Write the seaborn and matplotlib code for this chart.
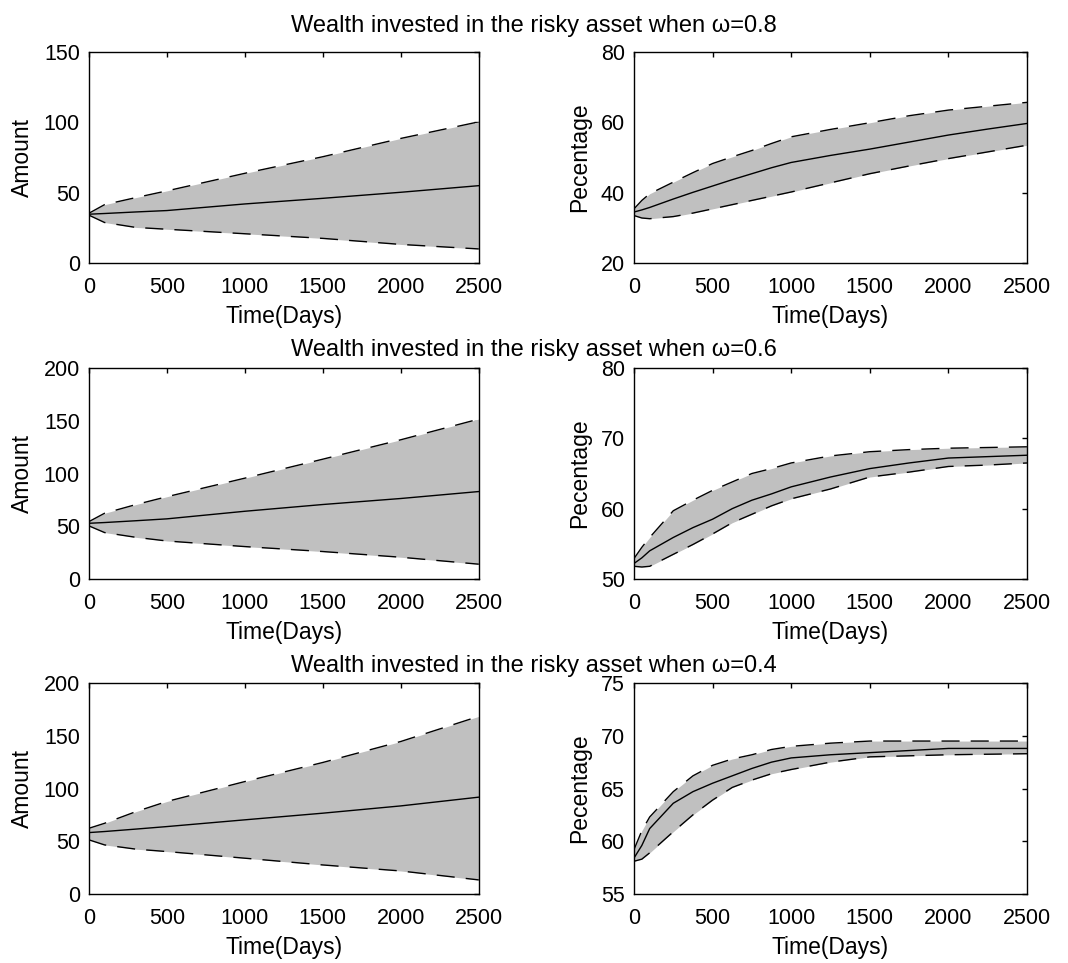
import numpy as np
import pandas as pd
import matplotlib
matplotlib.use("Agg")
import matplotlib.pyplot as plt
import seaborn as sns

# omega values, one row of panels each
omegas = ["0.8", "0.6", "0.4"]

# left panels: amount invested (x in days)
amt_days = [0, 100, 300, 500, 1000, 1500, 2000, 2500]
amt_mean = [
    [34.7, 35.2, 36.3, 37.3, 42.0, 46.0, 50.3, 55.0],
    [52.8, 53.5, 55.2, 57.0, 64.2, 70.6, 76.3, 82.9],
    [58.2, 59.2, 61.5, 63.9, 70.3, 76.6, 83.5, 91.8],
]
amt_upper = [
    [35.4, 41.5, 46.5, 51.3, 63.8, 75.6, 88.6, 100.4],
    [54.4, 62.3, 70.5, 78.0, 95.6, 113.6, 132.0, 151.6],
    [62.3, 67.0, 78.0, 87.7, 106.6, 124.7, 144.6, 168.4],
]
amt_lower = [
    [34.0, 28.8, 25.3, 24.0, 20.8, 17.5, 13.2, 10.0],
    [50.3, 44.0, 39.5, 36.0, 30.7, 26.0, 20.6, 14.0],
    [51.3, 46.5, 42.5, 40.2, 33.9, 27.5, 21.8, 13.3],
]
amt_ylim = [(0, 150), (0, 200), (0, 200)]
amt_yticks = [[0, 50, 100, 150], [0, 50, 100, 150, 200], [0, 50, 100, 150, 200]]

# right panels: percentage of wealth in the risky asset
pct_days = [0, 50, 100, 250, 375, 500, 625, 750, 875, 1000, 1250, 1500, 1750, 2000, 2250, 2500]
pct_mean = [
    [34.5, 35.1, 35.8, 38.2, 40.1, 41.9, 43.7, 45.4, 47.1, 48.6, 50.6, 52.4, 54.4, 56.4, 58.1, 59.7],
    [52.2, 53.0, 54.0, 55.9, 57.3, 58.5, 60.0, 61.2, 62.1, 63.1, 64.5, 65.7, 66.5, 67.2, 67.4, 67.6],
    [58.4, 59.6, 61.2, 63.6, 64.7, 65.5, 66.2, 66.9, 67.5, 67.9, 68.2, 68.4, 68.6, 68.8, 68.8, 68.8],
]
pct_upper = [
    [35.4, 37.8, 39.7, 43.0, 45.7, 48.3, 50.2, 52.0, 54.0, 55.9, 58.0, 59.9, 61.9, 63.5, 64.6, 65.7],
    [52.9, 54.5, 55.9, 59.7, 61.2, 62.6, 63.8, 65.0, 65.7, 66.5, 67.5, 68.1, 68.4, 68.6, 68.7, 68.8],
    [59.2, 61.0, 62.3, 64.7, 66.2, 67.2, 67.8, 68.2, 68.7, 69.0, 69.3, 69.5, 69.5, 69.5, 69.5, 69.5],
]
pct_lower = [
    [33.5, 32.8, 32.6, 33.2, 34.2, 35.4, 36.6, 37.8, 39.0, 40.2, 42.8, 45.4, 47.6, 49.7, 51.6, 53.5],
    [51.8, 51.7, 51.8, 53.5, 54.9, 56.4, 58.0, 59.2, 60.4, 61.4, 62.8, 64.5, 65.2, 66.0, 66.2, 66.5],
    [58.1, 58.3, 58.9, 60.9, 62.5, 63.9, 65.1, 65.8, 66.4, 66.8, 67.5, 68.0, 68.1, 68.2, 68.25, 68.3],
]
pct_ylim = [(20, 80), (50, 80), (55, 75)]
pct_yticks = [[20, 40, 60, 80], [50, 60, 70, 80], [55, 60, 65, 70, 75]]

sns.set_style("white")
plt.rcParams['font.family'] = ['Liberation Sans', 'DejaVu Sans']
plt.rcParams['text.color'] = 'black'
plt.rcParams['axes.labelcolor'] = 'black'

fig = plt.figure(figsize=(10.68, 9.63), dpi=100)

row_bottoms = [0.7269, 0.3988, 0.0717]
row_height = 0.219
title_y = [0.9668, 0.6303, 0.3022]
left_x, left_w = 0.0833, 0.365
right_x, right_w = 0.5936, 0.368


def draw_band(ax, days, mean, upper, lower, ylim, yticks, ylabel):
    df = pd.DataFrame({'day': days, 'mean': mean, 'upper': upper, 'lower': lower})
    ax.fill_between(df['day'], df['lower'], df['upper'], color='#c0c0c0', lw=0)
    sns.lineplot(data=df, x='day', y='mean', ax=ax, color='black', lw=1)
    for col in ['upper', 'lower']:
        sns.lineplot(data=df, x='day', y=col, ax=ax, color='black', lw=1,
                     linestyle=(0, (13, 8)))
    ax.set_xlim(0, 2500)
    ax.set_ylim(*ylim)
    ax.set_xticks([0, 500, 1000, 1500, 2000, 2500])
    ax.set_yticks(yticks)
    ax.set_xlabel('Time(Days)', fontsize=16.5, labelpad=5)
    ax.set_ylabel(ylabel, fontsize=16.5, labelpad=7)
    ax.tick_params(axis='both', direction='in', length=3.5, width=1, top=True,
                   right=True, labelsize=15.5, colors='black')
    ax.tick_params(axis='x', pad=10)
    ax.tick_params(axis='y', pad=6.5)
    for s in ax.spines.values():
        s.set_visible(True)
        s.set_color('black')
        s.set_linewidth(1)


for i, om in enumerate(omegas):
    axl = fig.add_axes([left_x, row_bottoms[i], left_w, row_height])
    draw_band(axl, amt_days, amt_mean[i], amt_upper[i], amt_lower[i],
              amt_ylim[i], amt_yticks[i], 'Amount')
    axr = fig.add_axes([right_x, row_bottoms[i], right_w, row_height])
    draw_band(axr, pct_days, pct_mean[i], pct_upper[i], pct_lower[i],
              pct_ylim[i], pct_yticks[i], 'Pecentage')
    fig.text(0.5, title_y[i],
             f'Wealth invested in the risky asset when \u03c9={om}',
             ha='center', va='baseline', fontsize=17)

fig.savefig('out.png', dpi=100, facecolor='white')
